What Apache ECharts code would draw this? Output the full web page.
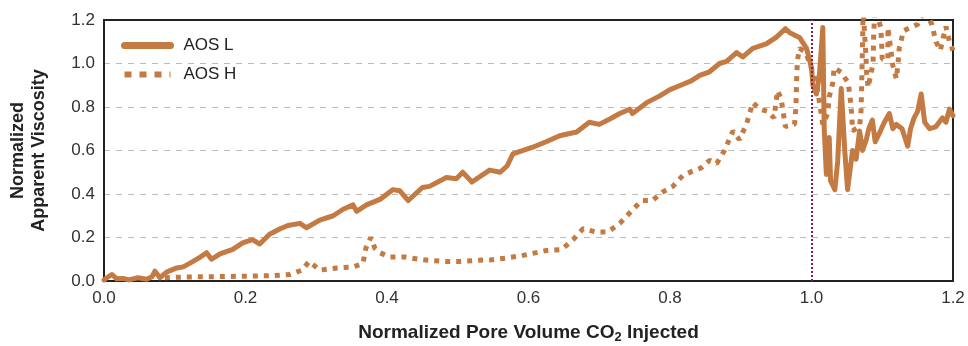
<!DOCTYPE html>
<html>
<head>
<meta charset="utf-8">
<script src="https://cdn.jsdelivr.net/npm/echarts@6/dist/echarts.min.js"></script>
<style>
  html, body { margin: 0; padding: 0; background: #fff; }
  #chart { width: 968px; height: 346px; }
</style>
</head>
<body>
<div id="chart"></div>
<script>
// x = normalized pore volume CO2 injected, y = normalized apparent viscosity
const aosL = [
  [0.000, 0.005], [0.004, 0.015], [0.011, 0.03], [0.018, 0.01], [0.027, 0.012], [0.035, 0.005],
  [0.048, 0.015], [0.060, 0.008], [0.068, 0.02], [0.072, 0.045], [0.079, 0.015], [0.088, 0.04],
  [0.095, 0.05], [0.103, 0.06], [0.112, 0.065], [0.126, 0.09], [0.136, 0.11], [0.145, 0.13],
  [0.152, 0.10], [0.164, 0.125], [0.182, 0.145], [0.196, 0.175], [0.210, 0.19], [0.220, 0.17],
  [0.234, 0.215], [0.249, 0.24], [0.260, 0.255], [0.277, 0.265], [0.286, 0.245], [0.305, 0.28],
  [0.324, 0.30], [0.338, 0.33], [0.352, 0.35], [0.357, 0.32], [0.371, 0.35], [0.390, 0.375],
  [0.408, 0.42], [0.418, 0.415], [0.430, 0.37], [0.450, 0.43], [0.460, 0.435], [0.484, 0.476],
  [0.498, 0.47], [0.507, 0.50], [0.520, 0.455], [0.545, 0.51], [0.560, 0.50], [0.570, 0.53],
  [0.578, 0.585], [0.606, 0.615], [0.625, 0.64], [0.644, 0.668], [0.668, 0.685], [0.686, 0.73],
  [0.700, 0.72], [0.715, 0.745], [0.729, 0.77], [0.743, 0.79], [0.747, 0.77], [0.767, 0.82],
  [0.785, 0.85], [0.800, 0.88], [0.815, 0.90], [0.830, 0.92], [0.842, 0.945], [0.855, 0.96],
  [0.870, 1.00], [0.880, 1.01], [0.894, 1.05], [0.903, 1.03], [0.917, 1.07], [0.936, 1.09],
  [0.950, 1.12], [0.963, 1.16], [0.970, 1.14], [0.983, 1.12], [0.993, 1.07], [1.000, 0.98],
  [1.002, 0.90], [1.007, 0.86], [1.011, 0.94], [1.016, 1.165], [1.018, 0.70], [1.021, 0.49],
  [1.025, 0.66], [1.027, 0.46], [1.033, 0.42], [1.037, 0.55], [1.042, 0.885], [1.047, 0.60],
  [1.051, 0.42], [1.058, 0.60], [1.063, 0.56], [1.068, 0.69], [1.072, 0.60], [1.077, 0.645],
  [1.081, 0.70], [1.086, 0.74], [1.090, 0.64], [1.096, 0.68], [1.103, 0.73], [1.110, 0.77],
  [1.115, 0.70], [1.120, 0.72], [1.128, 0.70], [1.136, 0.62], [1.140, 0.70], [1.145, 0.75],
  [1.150, 0.78], [1.155, 0.86], [1.160, 0.73], [1.167, 0.70], [1.176, 0.71], [1.185, 0.75],
  [1.190, 0.73], [1.195, 0.79], [1.200, 0.76]
];

const aosH = [
  [0.086, 0.015], [0.112, 0.018], [0.154, 0.02], [0.200, 0.022], [0.240, 0.025], [0.263, 0.03],
  [0.280, 0.05], [0.290, 0.09], [0.305, 0.05], [0.329, 0.06], [0.352, 0.065], [0.366, 0.08],
  [0.370, 0.15], [0.377, 0.20], [0.383, 0.15], [0.390, 0.13], [0.404, 0.11], [0.425, 0.11],
  [0.446, 0.10], [0.460, 0.095], [0.484, 0.09], [0.503, 0.09], [0.527, 0.095], [0.545, 0.097],
  [0.567, 0.105], [0.588, 0.115], [0.625, 0.14], [0.647, 0.145], [0.663, 0.19], [0.677, 0.24],
  [0.696, 0.225], [0.712, 0.225], [0.729, 0.265], [0.745, 0.32], [0.760, 0.37], [0.775, 0.37],
  [0.790, 0.41], [0.804, 0.435], [0.818, 0.485], [0.832, 0.505], [0.844, 0.52], [0.856, 0.555],
  [0.866, 0.54], [0.877, 0.60], [0.889, 0.69], [0.898, 0.65], [0.908, 0.72], [0.917, 0.82],
  [0.927, 0.79], [0.938, 0.78], [0.947, 0.75], [0.952, 0.875], [0.957, 0.84], [0.963, 0.71],
  [0.976, 0.72], [0.978, 0.80], [0.979, 0.93], [0.980, 1.01], [0.983, 1.07], [0.992, 1.05],
  [1.004, 0.94], [1.009, 0.87], [1.016, 0.72], [1.023, 0.77], [1.025, 0.845], [1.030, 0.91],
  [1.032, 0.98], [1.042, 0.96], [1.052, 0.91], [1.055, 0.83], [1.057, 0.76], [1.058, 0.69],
  [1.068, 0.71], [1.070, 0.78], [1.071, 0.91], [1.072, 1.06], [1.073, 1.25], [1.077, 1.03],
  [1.078, 0.95], [1.080, 0.89], [1.087, 1.00], [1.088, 1.15], [1.090, 1.25], [1.098, 1.165],
  [1.099, 1.10], [1.100, 1.02], [1.108, 1.02], [1.108, 1.10], [1.108, 1.165], [1.115, 0.99],
  [1.120, 0.93], [1.122, 0.99], [1.124, 1.07], [1.130, 1.15], [1.136, 1.16], [1.150, 1.18],
  [1.160, 1.25], [1.170, 1.18], [1.176, 1.10], [1.182, 1.06], [1.190, 1.17], [1.195, 1.10],
  [1.200, 1.06]
];

const xTicks = { min: 0, max: 1.2, step: 0.2 };
const yTicks = { min: 0, max: 1.2, step: 0.2 };
const refLineX = [1.0];

const lineColor = '#c47a43';
const chart = echarts.init(document.getElementById('chart'));

chart.setOption({
  animation: false,
  backgroundColor: '#fff',
  textStyle: { fontFamily: 'Liberation Sans, Arial, sans-serif' },
  grid: {
    left: 104, right: 15, top: 20, bottom: 65,
    outerBoundsMode: 'none', containLabel: false,
    show: true, borderColor: '#222', borderWidth: 2
  },
  legend: {
    left: 116, top: 32, orient: 'vertical',
    itemWidth: 46, itemHeight: 14, itemGap: 12,
    textStyle: { fontSize: 17, color: '#222', padding: [0, 0, 0, 8] },
    data: [
      { name: 'AOS L', itemStyle: { opacity: 0 }, lineStyle: { width: 7, type: 'solid', cap: 'round' } },
      { name: 'AOS H', itemStyle: { opacity: 0 }, lineStyle: { width: 6, type: [7, 8] } }
    ]
  },
  xAxis: {
    type: 'value', min: xTicks.min, max: xTicks.max, interval: xTicks.step,
    name: '{b|Normalized Pore Volume CO}{s|2}{b| Injected}',
    nameLocation: 'middle', nameGap: 40,
    nameTextStyle: {
      rich: {
        b: { fontSize: 19, fontWeight: 'bold', color: '#222' },
        s: { fontSize: 13, fontWeight: 'bold', color: '#222', padding: [10, 0, 0, 0] }
      }
    },
    axisLine: { show: true, lineStyle: { color: '#222', width: 2 } },
    axisTick: { show: false },
    splitLine: { show: false },
    axisLabel: { fontSize: 17, color: '#333', margin: 9, formatter: v => v.toFixed(1) }
  },
  yAxis: {
    type: 'value', min: yTicks.min, max: yTicks.max, interval: yTicks.step,
    name: 'Normalized\nApparent Viscosity',
    nameLocation: 'middle', nameGap: 54,
    nameTextStyle: { fontSize: 18, fontWeight: 'bold', color: '#222', lineHeight: 21 },
    axisLine: { show: true, lineStyle: { color: '#222', width: 2 } },
    axisTick: { show: false },
    splitLine: {
      show: true, showMinLine: false, showMaxLine: false,
      lineStyle: { color: '#bbb', type: [6, 6], width: 1 }
    },
    axisLabel: { fontSize: 17, color: '#333', margin: 9, formatter: v => v.toFixed(1) }
  },
  series: [
    {
      name: 'AOS L', type: 'line', data: aosL, symbol: 'none', clip: true,
      lineStyle: { color: lineColor, width: 5, join: 'round', cap: 'round' },
      itemStyle: { color: lineColor },
      z: 3,
      markLine: {
        silent: true, symbol: ['none', 'none'],
        label: { show: false },
        lineStyle: { color: '#8e2040', type: [2, 2], width: 2 },
        data: refLineX.map(x => ({ xAxis: x }))
      }
    },
    {
      name: 'AOS H', type: 'line', data: aosH, symbol: 'none', clip: true,
      lineStyle: { color: lineColor, width: 5, type: [5, 6] },
      itemStyle: { color: lineColor },
      z: 2
    }
  ]
});
</script>
</body>
</html>
